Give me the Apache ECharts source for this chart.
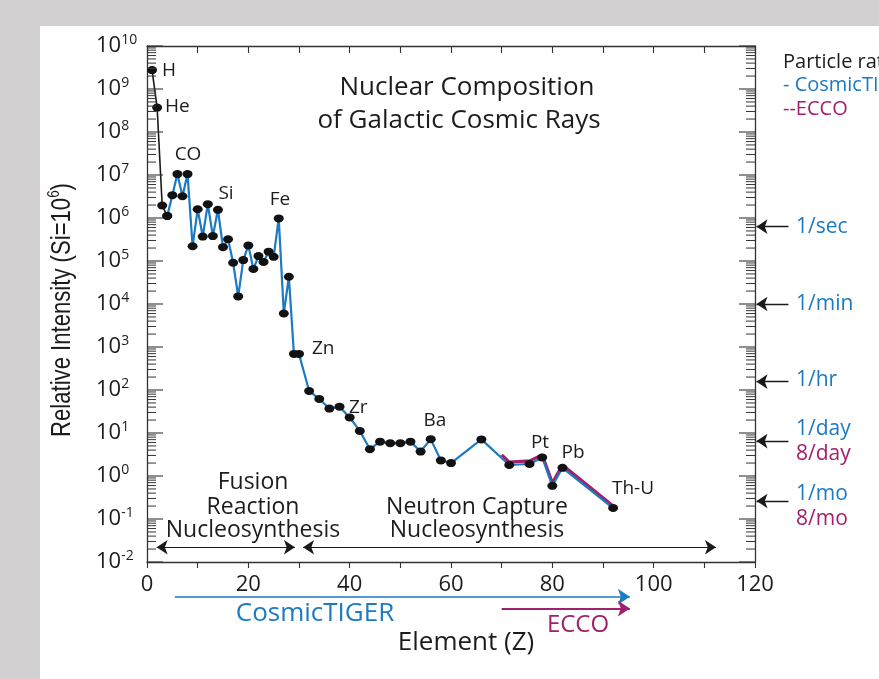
<!DOCTYPE html>
<html>
<head>
<meta charset="utf-8">
<script src="https://cdn.jsdelivr.net/npm/echarts@6.0.0/dist/echarts.min.js"></script>
<style>
html,body{margin:0;padding:0;background:#d2d0d0;overflow:hidden;}
#chart{width:879px;height:679px;}
</style>
</head>
<body>
<div id="chart"></div>
<script>
// ---------------- data ----------------
// light elements measured before CosmicTIGER range (black line)
const elementZ_black = [1, 2, 3, 4];
const intensity_black = [2.75e9, 3.7e8, 1.95e6, 1.12e6];

// CosmicTIGER composition (blue line)
const elementZ_tiger = [4,5,6,7,8,9,10,11,12,13,14,15,16,17,18,19,20,21,22,23,24,25,26,27,28,29,30,
  32,34,36,38,40,42,44,46,48,50,52,54,56,58,60,
  66,71.5,75.5,78,80,82,92];
const intensity_tiger = [1.12e6,3.4e6,1.05e7,3.2e6,1.05e7,2.2e5,1.6e6,3.7e5,2.1e6,3.8e5,1.55e6,2.1e5,3.2e5,9.1e4,1.5e4,1.05e5,2.3e5,6.5e4,1.3e5,9.5e4,1.65e5,1.25e5,9.8e5,6.0e3,4.3e4,690,690,
  95,62,37,41,23,11.2,4.2,6.3,5.8,5.8,6.3,3.7,7.2,2.3,2.0,
  7.1,1.8,1.9,2.7,0.59,1.55,0.18];

// ECCO (magenta line)
const elementZ_ecco = [70, 71.5, 75.5, 78, 80, 82, 92];
const intensity_ecco = [3.1, 2.1, 2.25, 3.1, 0.69, 1.8, 0.2];

// element labels
const elementLabels = ['H','He','CO','Si','Fe','Zn','Zr','Ba','Pt','Pb','Th-U'];

// y tick exponents (decades from 10^-2 to 10^10)
const yDecades = [-2,-1,0,1,2,3,4,5,6,7,8,9,10];

// particle rate levels (right side)
const rateTiger = ['1/sec','1/min','1/hr','1/day','1/mo'];
const rateEcco  = ['','','','8/day','8/mo'];
const rateLevel = [6.3e5, 1.0e4, 156, 6.5, 0.262];

// annotation ranges (Z)
const fusionRange  = [1.9, 29.2];
const captureRange = [30.8, 112.3];
const rangeLevel   = 0.022;
const tigerRange   = [5.5, 95.3];
const tigerLevel   = 0.00155;
const eccoRange    = [70, 95.3];
const eccoLevel    = 0.00083;

// ---------------- styles ----------------
const FONT = '"Open Sans", "Noto Sans", sans-serif';
const TXT = '#1c1c1c';
const AX = '#333333';
const BLUE = '#1b7ac2';
const MAG = '#a11f6d';

const chart = echarts.init(document.getElementById('chart'), null, {renderer:'canvas', width:879, height:679});

const pairs = (zs, vs) => zs.map((z, i) => [z, vs[i]]);

const yMin = Math.pow(10, yDecades[0]);
const yMax = Math.pow(10, yDecades[yDecades.length - 1]);

const option = {
  backgroundColor: '#d2d0d0',
  animation: false,
  grid: {left:147, top:46, width:608, height:516, containLabel:false},
  xAxis: [
    {type:'value', min:0, max:120, interval:20, position:'bottom',
     axisLine:{show:true, onZero:false, lineStyle:{color:AX, width:1.3}},
     axisTick:{show:true, inside:false, length:6, lineStyle:{color:AX, width:1.1}},
     minorTick:{show:true, splitNumber:2, length:6, lineStyle:{color:AX, width:1.1}},
     axisLabel:{show:true, margin:12, fontSize:22, color:TXT, fontFamily:FONT},
     splitLine:{show:false}, minorSplitLine:{show:false}},
    {type:'value', min:0, max:120, interval:20, position:'top',
     axisLine:{show:true, onZero:false, lineStyle:{color:AX, width:1.3}},
     axisTick:{show:true, inside:true, length:7, lineStyle:{color:AX, width:1.1}},
     minorTick:{show:true, splitNumber:2, length:7, lineStyle:{color:AX, width:1.1}},
     axisLabel:{show:false}, splitLine:{show:false}}
  ],
  yAxis: [
    {type:'log', logBase:10, min:yMin, max:yMax, interval:1, position:'left',
     axisLine:{show:true, onZero:false, lineStyle:{color:AX, width:1.3}},
     axisTick:{show:false},
     axisLabel:{show:false},
     splitLine:{show:false}},
    {type:'log', logBase:10, min:yMin, max:yMax, interval:1, position:'right',
     axisLine:{show:true, onZero:false, lineStyle:{color:AX, width:1.3}},
     axisTick:{show:false},
     axisLabel:{show:false}, splitLine:{show:false}}
  ],
  series: [
    {type:'line', name:'ECCO', data: pairs(elementZ_ecco, intensity_ecco),
     xAxisIndex:0, yAxisIndex:0, symbol:'none', z:2,
     lineStyle:{color:MAG, width:3.2}},
    {type:'line', name:'CosmicTIGER', data: pairs(elementZ_tiger, intensity_tiger),
     xAxisIndex:0, yAxisIndex:0, symbol:'circle', symbolSize:[10,8], z:3,
     lineStyle:{color:BLUE, width:2.2}, itemStyle:{color:'#121212'}},
    {type:'line', name:'light', data: pairs(elementZ_black, intensity_black),
     xAxisIndex:0, yAxisIndex:0, symbol:'circle', symbolSize:[10,8], z:4,
     lineStyle:{color:'#1a1a1a', width:1.6}, itemStyle:{color:'#121212'}},
    // rate arrows on the right
    {type:'lines', coordinateSystem:'cartesian2d', xAxisIndex:0, yAxisIndex:0, clip:false, z:5,
     symbol:['none','arrow'], symbolSize:11,
     lineStyle:{color:'#1a1a1a', width:1.3, opacity:1, curveness:0},
     data: rateLevel.map(v => ({coords:[[126.6, v],[120.3, v]]}))},
    // nucleosynthesis range arrows
    {type:'lines', coordinateSystem:'cartesian2d', xAxisIndex:0, yAxisIndex:0, clip:false, z:5,
     symbol:['arrow','arrow'], symbolSize:11,
     lineStyle:{color:'#1a1a1a', width:1.1, opacity:1, curveness:0},
     data: [{coords:[[fusionRange[0], rangeLevel],[fusionRange[1], rangeLevel]]},
            {coords:[[captureRange[0], rangeLevel],[captureRange[1], rangeLevel]]}]},
    // instrument ranges
    {type:'lines', coordinateSystem:'cartesian2d', xAxisIndex:0, yAxisIndex:0, clip:false, z:5,
     symbol:['none','arrow'], symbolSize:12,
     lineStyle:{color:BLUE, width:1.6, opacity:1, curveness:0},
     data: [{coords:[[tigerRange[0], tigerLevel],[tigerRange[1], tigerLevel]]}]},
    {type:'lines', coordinateSystem:'cartesian2d', xAxisIndex:0, yAxisIndex:0, clip:false, z:5,
     symbol:['none','arrow'], symbolSize:12,
     lineStyle:{color:MAG, width:2, opacity:1, curveness:0},
     data: [{coords:[[eccoRange[0], eccoLevel],[eccoRange[1], eccoLevel]]}]}
  ]
};

chart.setOption(option);

// ---------------- graphics ----------------
function txt(text, x, y, size, color, align, extra) {
  return Object.assign({type:'text', x:x, y:y, z:50,
    style:{text:text, fontSize:size, fontFamily:FONT, fill:color, align:align || 'center', verticalAlign:'middle'}}, extra || {});
}
const G = [];
G.push({type:'rect', z:-100, shape:{x:40, y:26, width:839, height:653}, style:{fill:'#ffffff'}});

const xl = chart.convertToPixel({xAxisIndex:0}, 0);
const xr = chart.convertToPixel({xAxisIndex:0}, 120);

// decade ticks + labels (through the axis scale)
yDecades.forEach(e => {
  const y = chart.convertToPixel({yAxisIndex:0}, Math.pow(10, e));
  G.push({type:'line', z:10, shape:{x1:xl, y1:y, x2:xl + 16, y2:y}, style:{stroke:AX, lineWidth:1.1}});
  G.push({type:'line', z:10, shape:{x1:xr, y1:y, x2:xr - 16, y2:y}, style:{stroke:AX, lineWidth:1.1}});
  G.push({type:'text', z:50, x:96, y:y,
    style:{text:'{b|10}{s|' + e + '}', align:'left', verticalAlign:'middle',
      rich:{b:{fontSize:22, fontFamily:FONT, fill:TXT, lineHeight:26},
            s:{fontSize:14, fontFamily:FONT, fill:TXT, lineHeight:16, verticalAlign:'top'}}}});
});
// minor log ticks on both y axes
for (let i = 0; i < yDecades.length - 1; i++) {
  for (let k = 2; k < 10; k++) {
    const y = chart.convertToPixel({yAxisIndex:0}, k * Math.pow(10, yDecades[i]));
    G.push({type:'line', z:10, shape:{x1:xl, y1:y, x2:xl + 9, y2:y}, style:{stroke:AX, lineWidth:1}});
    G.push({type:'line', z:10, shape:{x1:xr, y1:y, x2:xr - 9, y2:y}, style:{stroke:AX, lineWidth:1}});
  }
}

// rate labels
const rateOffT = [0, 0, -2, -12.5, -6.5];
const rateOffE = [0, 0, 0, 12.5, 18.3];
rateLevel.forEach((v, i) => {
  const y = chart.convertToPixel({yAxisIndex:0}, v);
  G.push(txt(rateTiger[i], 796, y + rateOffT[i], 21, BLUE, 'left'));
  if (rateEcco[i]) G.push(txt(rateEcco[i], 796, y + rateOffE[i], 21, MAG, 'left'));
});

// element labels
const labPos = [[162,71,'left'],[165,107,'left'],[188,155,'center'],[226,194,'center'],[280,200,'center'],
  [312,349,'left'],[349,408,'left'],[435,421,'center'],[540,443,'center'],[573,453,'center'],[612,489,'left']];
elementLabels.forEach((t, i) => G.push(txt(t, labPos[i][0], labPos[i][1], 19, TXT, labPos[i][2])));

// title
G.push(txt('Nuclear Composition', 467, 88, 26, TXT));
G.push(txt('of Galactic Cosmic Rays', 459, 121, 26, TXT));

// region annotations
G.push(txt('Fusion', 253, 482, 23, TXT));
G.push(txt('Reaction', 253, 507, 23, TXT));
G.push(txt('Nucleosynthesis', 253, 530, 23, TXT));
G.push(txt('Neutron Capture', 477, 507, 23, TXT));
G.push(txt('Nucleosynthesis', 477, 530, 23, TXT));

// instruments
G.push(txt('CosmicTIGER', 315, 614, 26, BLUE));
G.push(txt('ECCO', 578, 625, 24, MAG));

// x axis title
G.push(txt('Element (Z)', 466, 643, 26, TXT));

// legend (clipped at right edge)
G.push(txt('Particle rate', 783, 62, 20, TXT, 'left'));
G.push(txt('- CosmicTIGER', 783, 85, 20, BLUE, 'left'));
G.push(txt('--ECCO', 783, 109, 20, MAG, 'left'));

// y axis title
G.push({type:'text', x:62, y:310, z:50, rotation:Math.PI/2, scaleX:0.79, scaleY:1,
  style:{text:'{a|Relative Intensity (Si=10}{s|6}{a|)}', align:'center', verticalAlign:'middle',
    rich:{a:{fontSize:28, fontFamily:'"Liberation Sans", Arial, sans-serif', fill:TXT, lineHeight:32},
          s:{fontSize:17, fontFamily:'"Liberation Sans", Arial, sans-serif', fill:TXT, lineHeight:18, verticalAlign:'top'}}}});

chart.setOption({graphic: G});
</script>
</body>
</html>
